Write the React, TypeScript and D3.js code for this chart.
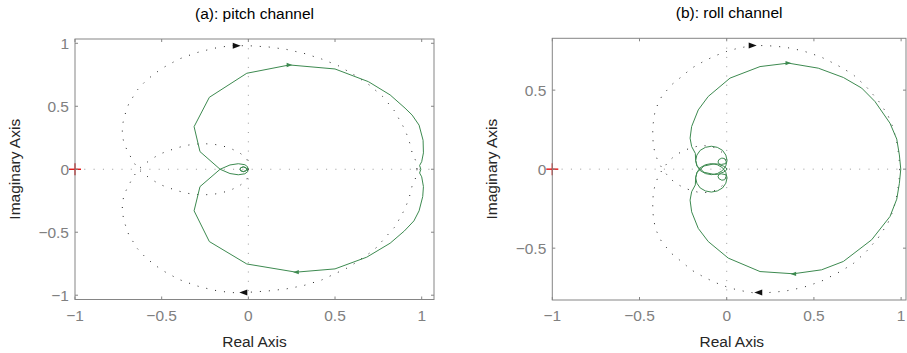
import React from "react";
import * as d3 from "d3";

type Pt = [number, number];
type Arrow = { x: number; y: number; dir: number };

// tick values
const xTicks = [-1, -0.5, 0, 0.5, 1];
const pitchYTicks = [-1, -0.5, 0, 0.5, 1];
const rollYTicks = [-0.5, 0, 0.5];

// (a) pitch channel: green Nyquist curve, upper and lower branches
const pitchGreenUpper: Pt[] = [
  [0.995, 0], [0.988, 0.03], [1.0, 0.06], [1.01, 0.13], [1.008, 0.23], [0.985, 0.35],
  [0.945, 0.43], [0.904, 0.485], [0.818, 0.59], [0.693, 0.695], [0.5, 0.796], [0.237, 0.828],
  [-0.009, 0.762], [-0.225, 0.571], [-0.313, 0.338], [-0.279, 0.14], [-0.163, 0],
  [-0.106, -0.034], [-0.058, -0.044], [-0.02, -0.036], [-0.003, -0.018], [-0.008, 0.004],
  [-0.014, 0.012], [-0.029, 0.019], [-0.044, 0.012], [-0.048, 0], [-0.044, -0.012],
  [-0.029, -0.019], [-0.014, -0.012], [-0.01, 0], [-0.004, 0],
];
const pitchGreenLower: Pt[] = [
  [0.995, 0], [0.988, -0.03], [1.0, -0.06], [1.01, -0.138], [1.006, -0.217], [0.985, -0.33],
  [0.955, -0.41], [0.9, -0.49], [0.818, -0.587], [0.683, -0.698], [0.5, -0.791], [0.275, -0.817],
  [-0.009, -0.752], [-0.225, -0.574], [-0.313, -0.33], [-0.279, -0.138], [-0.163, 0],
  [-0.106, 0.034], [-0.058, 0.044], [-0.02, 0.036], [-0.003, 0.018], [-0.008, -0.004],
  [-0.014, -0.012], [-0.029, -0.019], [-0.044, -0.012], [-0.048, 0], [-0.044, 0.012],
  [-0.029, 0.019], [-0.014, 0.012], [-0.01, 0], [-0.004, 0],
];

// (a) pitch channel: dotted reference curve
const pitchDotUpper: Pt[] = [
  [0, 0], [-0.003, 0.05], [-0.009, 0.087], [-0.052, 0.132], [-0.1, 0.164], [-0.148, 0.185],
  [-0.198, 0.198], [-0.254, 0.203], [-0.304, 0.2], [-0.356, 0.19], [-0.408, 0.171],
  [-0.458, 0.148], [-0.51, 0.121], [-0.557, 0.082], [-0.6, 0.04], [-0.635, 0],
  [-0.667, 0.068], [-0.692, 0.132], [-0.716, 0.198], [-0.727, 0.27], [-0.727, 0.344],
  [-0.715, 0.42], [-0.69, 0.52], [-0.64, 0.63], [-0.587, 0.709], [-0.5, 0.8], [-0.4, 0.875],
  [-0.3, 0.925], [-0.2, 0.96], [-0.1, 0.982], [0.01, 0.98], [0.115, 0.971], [0.218, 0.952],
  [0.321, 0.92], [0.423, 0.875], [0.519, 0.822], [0.612, 0.748], [0.698, 0.669],
  [0.776, 0.576], [0.843, 0.463], [0.894, 0.338], [0.916, 0.27], [0.933, 0.2],
  [0.945, 0.13], [0.968, 0.06], [0.973, 0],
];
const pitchDotLower: Pt[] = [
  [0.973, 0], [0.968, -0.06], [0.945, -0.13], [0.933, -0.2], [0.916, -0.27], [0.894, -0.338],
  [0.847, -0.455], [0.808, -0.514], [0.741, -0.619], [0.698, -0.667], [0.612, -0.748],
  [0.567, -0.786], [0.423, -0.879], [0.317, -0.924], [0.218, -0.95], [0.115, -0.966],
  [0.01, -0.976], [-0.1, -0.98], [-0.2, -0.96], [-0.3, -0.925], [-0.4, -0.875], [-0.5, -0.8],
  [-0.587, -0.709], [-0.64, -0.63], [-0.69, -0.52], [-0.715, -0.42], [-0.727, -0.344],
  [-0.727, -0.27], [-0.716, -0.198], [-0.692, -0.132], [-0.667, -0.068], [-0.635, 0],
  [-0.6, -0.04], [-0.557, -0.082], [-0.51, -0.121], [-0.458, -0.148], [-0.408, -0.171],
  [-0.356, -0.19], [-0.304, -0.2], [-0.254, -0.203], [-0.198, -0.198], [-0.148, -0.185],
  [-0.1, -0.164], [-0.052, -0.132], [-0.009, -0.087], [-0.003, -0.05], [0, 0],
];

// (b) roll channel: green Nyquist curve
const rollGreenUpper: Pt[] = [
  [0.998, 0], [0.99, 0.09], [0.975, 0.19], [0.936, 0.291], [0.85, 0.428], [0.774, 0.513],
  [0.669, 0.58], [0.525, 0.639], [0.353, 0.671], [0.191, 0.649], [0.019, 0.576],
  [-0.106, 0.46], [-0.163, 0.375], [-0.201, 0.27], [-0.21, 0.196], [-0.201, 0.143],
  [-0.18, 0.1], [-0.178, 0.055], [-0.171, 0.021], [-0.152, -0.009], [-0.122, -0.028],
  [-0.088, -0.035], [-0.054, -0.028], [-0.024, -0.009], [-0.005, 0.021], [0.002, 0.055],
  [-0.005, 0.089], [-0.024, 0.119], [-0.054, 0.138], [-0.088, 0.145], [-0.122, 0.138],
  [-0.152, 0.119], [-0.171, 0.089], [-0.178, 0.055], [-0.17, 0.02], [-0.13, -0.02],
  [-0.07, -0.034], [-0.03, -0.03], [-0.005, -0.035], [-0.003, -0.05], [-0.012, -0.067],
  [-0.028, -0.07], [-0.045, -0.06], [-0.05, -0.045], [-0.04, -0.027], [-0.02, -0.02],
  [-0.005, -0.01], [0, 0],
];
const rollGreenLower: Pt[] = [
  [0.998, 0], [0.99, -0.09], [0.975, -0.19], [0.936, -0.3], [0.831, -0.447], [0.669, -0.584],
  [0.544, -0.637], [0.382, -0.662], [0.191, -0.648], [0.009, -0.563], [-0.106, -0.458],
  [-0.163, -0.375], [-0.201, -0.27], [-0.21, -0.196], [-0.201, -0.143], [-0.18, -0.1],
  [-0.178, -0.055], [-0.171, -0.021], [-0.152, 0.009], [-0.122, 0.028], [-0.088, 0.035],
  [-0.054, 0.028], [-0.024, 0.009], [-0.005, -0.021], [0.002, -0.055], [-0.005, -0.089],
  [-0.024, -0.119], [-0.054, -0.138], [-0.088, -0.145], [-0.122, -0.138], [-0.152, -0.119],
  [-0.171, -0.089], [-0.178, -0.055], [-0.17, -0.02], [-0.13, 0.02], [-0.07, 0.034],
  [-0.03, 0.03], [-0.005, 0.035], [-0.003, 0.05], [-0.012, 0.067], [-0.028, 0.07],
  [-0.045, 0.06], [-0.05, 0.045], [-0.04, 0.027], [-0.02, 0.02], [-0.005, 0.01], [0, 0],
];

// (b) roll channel: dotted reference curve
const rollDotUpper: Pt[] = [
  [0, 0], [-0.005, 0.05], [-0.021, 0.1], [-0.05, 0.128], [-0.092, 0.145], [-0.147, 0.15],
  [-0.195, 0.138], [-0.246, 0.118], [-0.291, 0.09], [-0.331, 0.053], [-0.367, 0],
  [-0.392, 0.044], [-0.411, 0.1], [-0.421, 0.154], [-0.424, 0.213], [-0.424, 0.27],
  [-0.41, 0.375], [-0.373, 0.46], [-0.316, 0.534], [-0.258, 0.586], [-0.201, 0.639],
  [-0.134, 0.681], [-0.067, 0.717], [0, 0.745], [0.067, 0.766], [0.149, 0.782],
  [0.229, 0.782], [0.334, 0.772], [0.436, 0.749], [0.539, 0.711], [0.631, 0.66],
  [0.722, 0.601], [0.799, 0.523], [0.869, 0.434], [0.923, 0.344], [0.955, 0.26],
  [0.975, 0.17], [0.988, 0.08], [0.992, 0],
];
const rollDotLower: Pt[] = [
  [0.992, 0], [0.988, -0.08], [0.975, -0.17], [0.955, -0.26], [0.923, -0.344],
  [0.869, -0.434], [0.799, -0.523], [0.722, -0.601], [0.631, -0.66], [0.539, -0.711],
  [0.436, -0.749], [0.334, -0.772], [0.229, -0.782], [0.149, -0.782], [0.067, -0.766],
  [0, -0.745], [-0.067, -0.717], [-0.134, -0.681], [-0.201, -0.639], [-0.258, -0.586],
  [-0.316, -0.534], [-0.373, -0.46], [-0.41, -0.375], [-0.424, -0.27], [-0.424, -0.213],
  [-0.421, -0.154], [-0.411, -0.1], [-0.392, -0.044], [-0.367, 0], [-0.331, -0.053],
  [-0.291, -0.09], [-0.246, -0.118], [-0.195, -0.138], [-0.147, -0.15], [-0.092, -0.145],
  [-0.05, -0.128], [-0.021, -0.1], [-0.005, -0.05], [0, 0],
];

const pitchDotArrows: Arrow[] = [{ x: -0.067, y: 0.98, dir: 1 }, { x: -0.029, y: -0.979, dir: -1 }];
const pitchGreenArrows: Arrow[] = [{ x: 0.237, y: 0.828, dir: 1 }, { x: 0.275, y: -0.817, dir: -1 }];
const rollDotArrows: Arrow[] = [{ x: 0.149, y: 0.782, dir: 1 }, { x: 0.181, y: -0.781, dir: -1 }];
const rollGreenArrows: Arrow[] = [{ x: 0.353, y: 0.671, dir: 1 }, { x: 0.382, y: -0.663, dir: -1 }];

const GREEN = "#3d8a50";
const FONT = "'Liberation Sans', Arial, Helvetica, sans-serif";
const fmt = (v: number) => (v < 0 ? "\u2212" + String(-v) : String(v));

function Panel(props: {
  title: string;
  x0: number; y0: number; w: number; h: number;
  xDomain: [number, number]; yDomain: [number, number];
  yTicks: number[];
  green: Pt[][]; dotted: Pt[][];
  greenArrows: Arrow[]; dotArrows: Arrow[];
  yLabelX: number;
}) {
  const { x0, y0, w, h } = props;
  const x = d3.scaleLinear().domain(props.xDomain).range([0, w]);
  const y = d3.scaleLinear().domain(props.yDomain).range([h, 0]);
  const line = d3.line<Pt>().x(d => x(d[0])).y(d => y(d[1]));
  const tri = (a: Arrow, s: number, hh: number) => {
    const cx = x(a.x), cy = y(a.y);
    return `M${cx + a.dir * s},${cy} L${cx - a.dir * s},${cy - hh} L${cx - a.dir * s},${cy + hh} Z`;
  };
  const tl = 3;
  return (
    <g transform={`translate(${x0},${y0})`}>
      <text x={w / 2} y={-20} textAnchor="middle" fontSize={15.5} fill="#000">{props.title}</text>
      {/* zero lines */}
      <line x1={0} x2={w} y1={y(0)} y2={y(0)} stroke="#999" strokeWidth={1} strokeDasharray="1 8.3" />
      <line x1={x(0)} x2={x(0)} y1={0} y2={h} stroke="#999" strokeWidth={1} strokeDasharray="1 8.3" />
      {/* dotted reference curve */}
      {props.dotted.map((d, i) => (
        <path key={"d" + i} d={line(d) || ""} fill="none" stroke="#222" strokeWidth={1} strokeDasharray="1 8" />
      ))}
      {props.dotArrows.map((a, i) => (
        <path key={"da" + i} d={tri(a, 4, 3)} fill="#111" />
      ))}
      {/* green Nyquist curve */}
      {props.green.map((d, i) => (
        <path key={"g" + i} d={line(d) || ""} fill="none" stroke={GREEN} strokeWidth={1} strokeLinejoin="round" />
      ))}
      {props.greenArrows.map((a, i) => (
        <path key={"ga" + i} d={tri(a, 2.8, 2.2)} fill={GREEN} />
      ))}
      {/* critical point */}
      <g stroke="#e00000" strokeWidth={1.3}>
        <line x1={x(-1) - 6} x2={x(-1) + 6} y1={y(0)} y2={y(0)} />
        <line x1={x(-1)} x2={x(-1)} y1={y(0) - 6} y2={y(0) + 6} />
      </g>
      {/* box and ticks */}
      <rect x={0} y={0} width={w} height={h} fill="none" stroke="#858585" strokeWidth={1} />
      {xTicks.map(t => (
        <g key={"xt" + t} stroke="#858585">
          <line x1={x(t)} x2={x(t)} y1={h} y2={h - tl} />
          <line x1={x(t)} x2={x(t)} y1={0} y2={tl} />
        </g>
      ))}
      {props.yTicks.map(t => (
        <g key={"yt" + t} stroke="#858585">
          <line x1={0} x2={tl} y1={y(t)} y2={y(t)} />
          <line x1={w} x2={w - tl} y1={y(t)} y2={y(t)} />
        </g>
      ))}
      {xTicks.map(t => (
        <text key={"xl" + t} x={x(t)} y={h + 21} textAnchor="middle" fontSize={15.5} fill="#808080">{fmt(t)}</text>
      ))}
      {props.yTicks.map(t => (
        <text key={"yl" + t} x={-6} y={y(t) + 5.5} textAnchor="end" fontSize={15.5} fill="#808080">{fmt(t)}</text>
      ))}
      <text x={w / 2 - (w - 359) / 2} y={h + 47} textAnchor="middle" fontSize={15.5} fill="#262626">Real Axis</text>
      <text transform={`translate(${props.yLabelX},${h / 2}) rotate(-90)`} textAnchor="middle" fontSize={15.5} fill="#262626">Imaginary Axis</text>
    </g>
  );
}

export default function App() {
  return (
    <svg width={907} height={353} style={{ position: "absolute", left: 0, top: 0, background: "#fff" }} fontFamily={FONT}>
      <rect width={907} height={353} fill="#fff" />
      <Panel
        title="(a): pitch channel"
        x0={75} y0={39} w={359} h={260.5}
        xDomain={[-1, 1.071]} yDomain={[-1.034, 1.034]}
        yTicks={pitchYTicks}
        green={[pitchGreenUpper, pitchGreenLower]}
        dotted={[pitchDotUpper, pitchDotLower]}
        greenArrows={pitchGreenArrows} dotArrows={pitchDotArrows}
        yLabelX={-55}
      />
      <Panel
        title="(b): roll channel"
        x0={552.3} y0={38.3} w={353.7} h={261.7}
        xDomain={[-1, 1.028]} yDomain={[-0.828, 0.828]}
        yTicks={rollYTicks}
        green={[rollGreenUpper, rollGreenLower]}
        dotted={[rollDotUpper, rollDotLower]}
        greenArrows={rollGreenArrows} dotArrows={rollDotArrows}
        yLabelX={-55}
      />
    </svg>
  );
}
